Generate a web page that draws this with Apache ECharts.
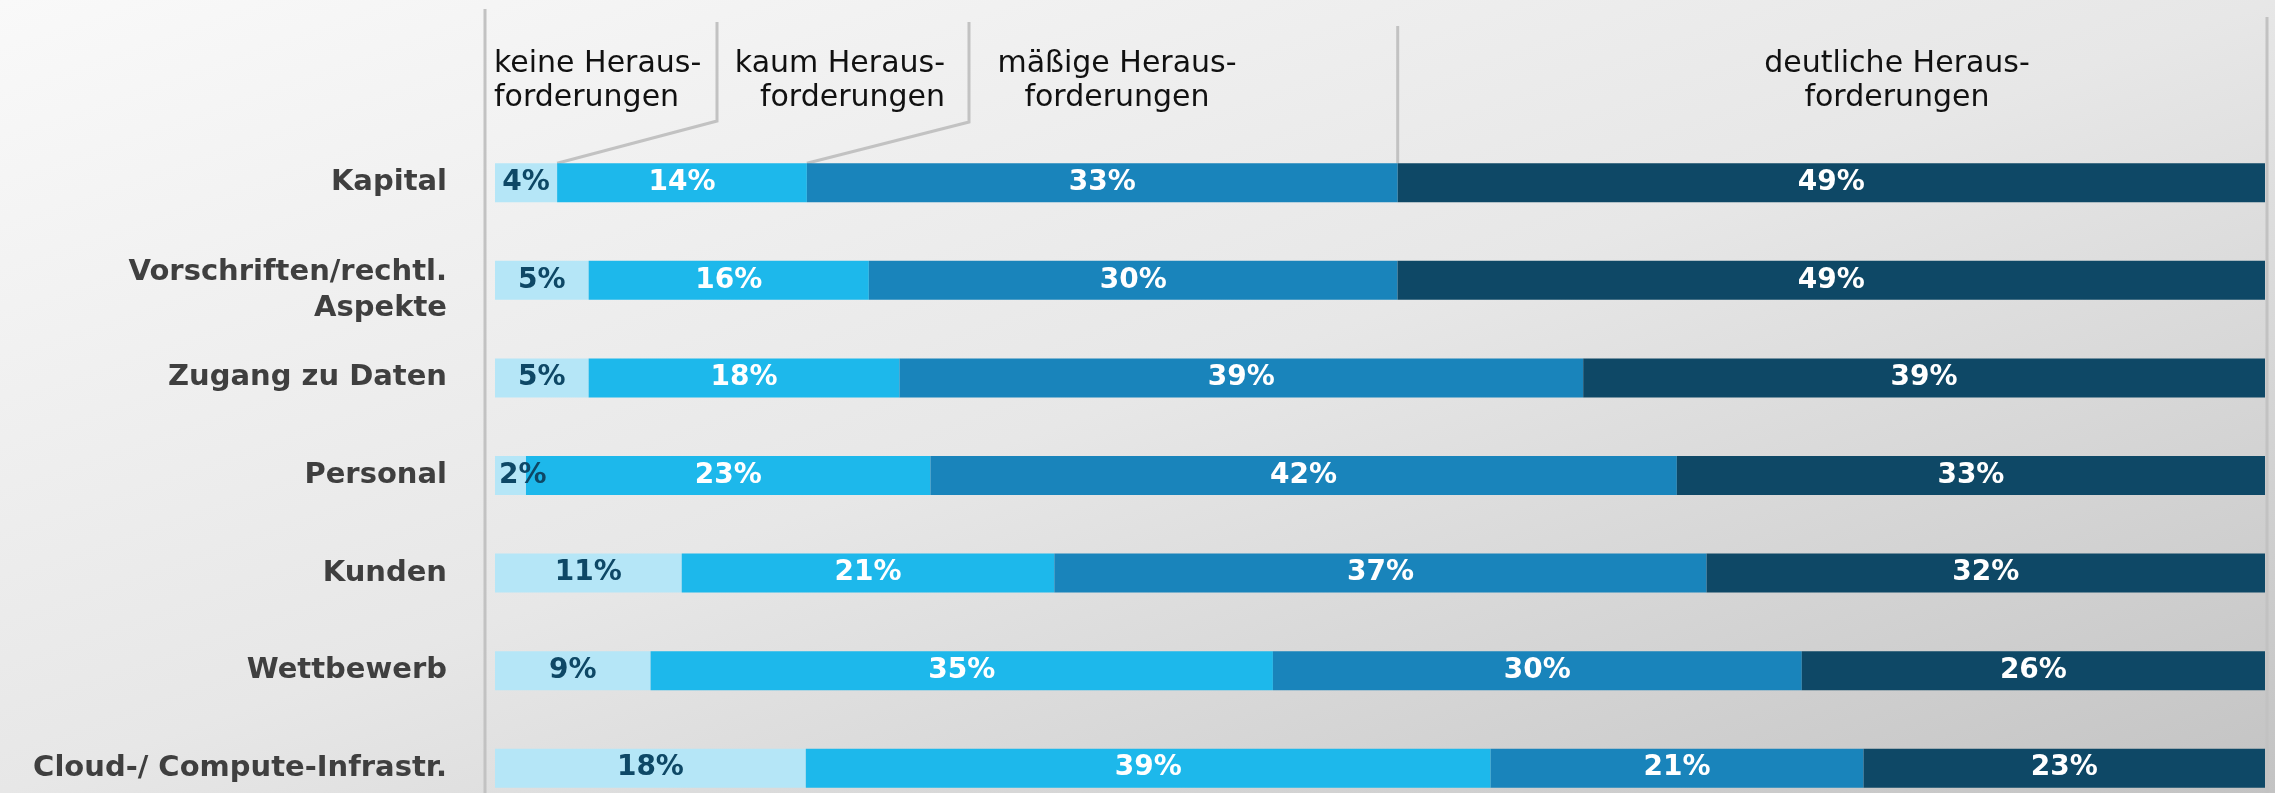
<!DOCTYPE html>
<html>
<head>
<meta charset="utf-8">
<script src="https://cdn.jsdelivr.net/npm/echarts@6/dist/echarts.min.js"></script>
<style>
  html, body { margin: 0; padding: 0; overflow: hidden; }
  #wrap {
    width: 2275px; height: 793px; overflow: hidden; position: relative;
    background: linear-gradient(to bottom right, #f9f9f9 0%, #e7e7e7 50%, #c3c3c3 100%);
  }
  #chart { width: 2275px; height: 817px; position: absolute; left: 0; top: 0; }
</style>
</head>
<body>
<div id="wrap"><div id="chart"></div></div>
<script>
// ---- data ----
const categories = ['Kapital', 'Vorschriften/rechtl.\nAspekte', 'Zugang zu Daten', 'Personal', 'Kunden', 'Wettbewerb', 'Cloud-/ Compute-Infrastr.'];
const seriesNames = ['keine Heraus-\nforderungen', 'kaum Heraus-\nforderungen', 'mäßige Heraus-\nforderungen', 'deutliche Heraus-\nforderungen'];
const keine    = [3.51, 5.29, 5.29, 1.75, 10.55, 8.79, 17.56];
const kaum     = [14.11, 15.83, 17.56, 22.85, 21.05, 35.16, 38.69];
const maessig  = [33.38, 29.87, 38.63, 42.17, 36.85, 29.88, 21.07];
const deutlich = [49.00, 49.01, 38.52, 33.23, 31.55, 26.17, 22.68];
const xMin = 0, xMax = 100;

// ---- styles ----
const FONT = 'DejaVu Sans';
const colors = ['#b5e6f7', '#1db8eb', '#1984bb', '#0e4866'];
const labelColors = ['#0e4866', '#ffffff', '#ffffff', '#ffffff'];
const BAR_W = 39;
const LINE_C = '#c2c2c2';
const VIEW_H = 793;

const chart = echarts.init(document.getElementById('chart'), null, { renderer: 'canvas' });

const allSeries = [keine, kaum, maessig, deutlich];
const series = allSeries.map((arr, si) => ({
  name: seriesNames[si],
  type: 'bar',
  stack: 'total',
  barWidth: BAR_W,
  itemStyle: { color: colors[si] },
  label: {
    show: true,
    position: 'inside',
    color: labelColors[si],
    fontFamily: FONT,
    fontWeight: 'bold',
    fontSize: 28,
    formatter: p => Math.round(p.value) + '%'
  },
  data: arr.map(v => v < 2.5
    ? { value: v, label: { position: 'insideLeft', distance: 4 } }
    : v)
}));

const labStyle = { fontFamily: FONT, fontWeight: 'bold', fontSize: 29, color: '#3f3f3f', lineHeight: 36, align: 'right' };

chart.setOption({
  backgroundColor: 'transparent',
  animation: false,
  grid: { left: 495, right: 10, top: 134, bottom: 0, containLabel: false },
  xAxis: { type: 'value', min: xMin, max: xMax, show: false },
  yAxis: {
    type: 'category',
    inverse: true,
    data: categories,
    axisLine: { show: false },
    axisTick: { show: false },
    splitLine: { show: false },
    axisLabel: Object.assign({
      margin: 48,
      formatter: v => {
        const parts = v.split('\n');
        if (parts.length === 1) return '{n|' + v + '}';
        // an empty spacer line on top pushes the two-line label down, as in the original
        return ['{s|\u200b}'].concat(parts.map(s => '{n|' + s + '}')).join('\n');
      },
      rich: {
        s: { fontSize: 10, lineHeight: 20, fontFamily: FONT },
        n: labStyle
      }
    }, labStyle)
  },
  series: series
});

// ---- annotation lines & headers (positioned from the scales) ----
const xAt = v => chart.convertToPixel({ xAxisIndex: 0 }, v);
const yAt = i => chart.convertToPixel({ yAxisIndex: 0 }, i);
const barTop = yAt(0) - BAR_W / 2;
const b1 = xAt(keine[0]);
const b2 = xAt(keine[0] + kaum[0]);
const b3 = xAt(keine[0] + kaum[0] + maessig[0]);
const b4 = xAt(xMax);
const gridLeft = xAt(xMin);

const lineStyle = { stroke: LINE_C, lineWidth: 3, fill: null };
const textStyle = (txt, x, align) => ({
  type: 'text', x: x, y: 47,
  style: { text: txt, fontFamily: FONT, fontSize: 30, lineHeight: 34, fill: '#111111', align: align, verticalAlign: 'top' }
});

chart.setOption({
  graphic: [
    { type: 'line', shape: { x1: gridLeft - 10, y1: 9, x2: gridLeft - 10, y2: VIEW_H }, style: lineStyle, z: 1 },
    { type: 'polyline', shape: { points: [[717, 22], [717, 121], [b1, barTop]] }, style: lineStyle, z: 1 },
    { type: 'polyline', shape: { points: [[969, 22], [969, 122], [b2, barTop]] }, style: lineStyle, z: 1 },
    { type: 'line', shape: { x1: b3, y1: 26, x2: b3, y2: barTop }, style: lineStyle, z: 1 },
    { type: 'line', shape: { x1: b4 + 2, y1: 17, x2: b4 + 2, y2: VIEW_H }, style: lineStyle, z: 1 },
    textStyle(seriesNames[0], 494, 'left'),
    textStyle(seriesNames[1], 945, 'right'),
    textStyle(seriesNames[2], 1117, 'center'),
    textStyle(seriesNames[3], 1897, 'center')
  ]
});
</script>
</body>
</html>
